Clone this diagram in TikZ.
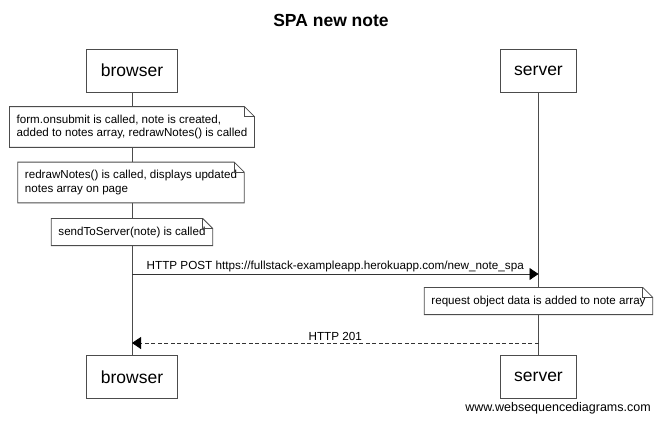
\documentclass[tikz,border=0pt]{standalone}
\usepackage{fontspec}
\setmainfont{Liberation Sans}
\usetikzlibrary{arrows.meta,positioning}
\tikzset{
    actor/.style={rectangle, draw=black!70, line width=0.8pt, font=\fontsize{17.5}{20}\selectfont, inner xsep=14pt, minimum height=43pt},
    note/.style={rectangle, fill=white, align=left, font=\fontsize{11.6}{13.5}\selectfont, inner xsep=7pt, inner ysep=8pt},
    note line/.style={draw=black!70, line width=0.8pt},
    life line/.style={draw=black!70, line width=0.8pt},
    msg/.style={draw=black!80, line width=0.8pt, -{Triangle[length=9pt,width=12pt,fill=black,color=black]}},
    reply/.style={msg, dash pattern=on 4pt off 2.5pt},
    msg label/.style={above, font=\fontsize{11.7}{13.5}\selectfont, inner sep=2pt}
}

\begin{document}
\begin{tikzpicture}[x=1pt, y=-1pt]
	\useasboundingbox (0,0) rectangle (661,421);
	\node[font=\bfseries\fontsize{17.5}{20}\selectfont] (title) at (331,20) {SPA new note};
	% participants
	\node[actor] (browser top) at (132,70.5) {browser};
	\node[actor] (server top) at (538.5,70.5) {server};
	\node[actor] (browser bot) at (132,377) {browser};
	\node[actor] (server bot) at (538.5,377) {server};
	\draw[life line] (browser top) -- (browser bot);
	\draw[life line] (server top) -- (server bot);
	% notes
	\node[note] (n submit) at (132,127) {form.onsubmit is called, note is created,\\added to notes array, redrawNotes() is called};
	\node[note] (n redraw) at (131,182.5) {redrawNotes() is called, displays updated\\notes array on page};
	\node[note] (n send) at (132,232) {sendToServer(note) is called};
	\node[note] (n save) at (538.5,301) {request object data is added to note array};
	\foreach \n in {n submit, n redraw, n send, n save}{
		\draw[note line] (\n.south west) -- (\n.north west) -- ([xshift=-10pt]\n.north east)
			-- ([yshift=-10pt]\n.north east) -- (\n.south east) -- cycle;
		\draw[note line] ([xshift=-10pt]\n.north east) -- ([xshift=-10pt,yshift=-10pt]\n.north east)
			-- ([yshift=-10pt]\n.north east);
	}
	% messages
	\coordinate (post from) at (browser top |- 0,274);
	\coordinate (post to) at (server top |- 0,274);
	\coordinate (ok from) at (server top |- 0,343);
	\coordinate (ok to) at (browser top |- 0,343);
	\draw[msg] (post from) -- node[msg label] (post label) {HTTP POST https://fullstack-exampleapp.herokuapp.com/new\_note\_spa} (post to);
	\draw[reply] (ok from) -- node[msg label] (ok label) {HTTP 201} (ok to);
	\node[font=\fontsize{12.5}{15}\selectfont] (credit) at (558,408) {www.websequencediagrams.com};
\end{tikzpicture}
\end{document}
